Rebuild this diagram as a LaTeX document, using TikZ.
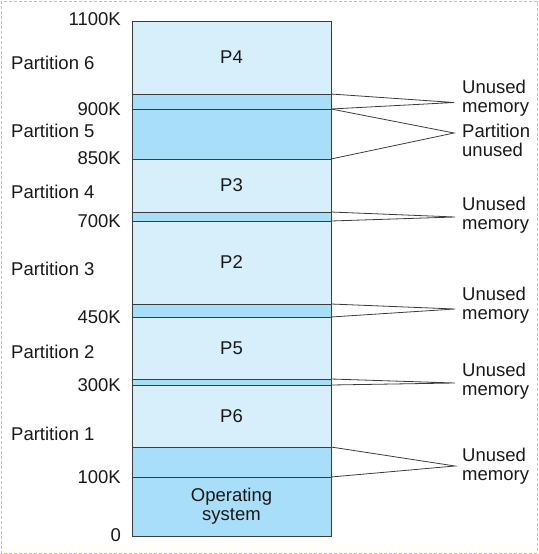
\documentclass[tikz,border=0pt]{standalone}
\usepackage{fontspec}
\setmainfont{Liberation Sans}
\definecolor{usedblue}{HTML}{D6EFFB}
\definecolor{freeblue}{HTML}{A9DEF8}
\definecolor{edgegray}{HTML}{3C3C3C}
\definecolor{framecol}{HTML}{C6CF58}
\tikzset{
  every node/.style={font=\fontsize{18.5}{19}\selectfont, text=black!90},
  band/.style={draw=edgegray, line width=1pt, minimum width=199pt, inner sep=0pt, outer sep=0pt, anchor=north},
  used/.style={band, fill=usedblue},
  free/.style={band, fill=freeblue},
  addr/.style={anchor=east, inner sep=0pt},
  part/.style={anchor=west, inner sep=0pt},
  note/.style={anchor=west, inner sep=0pt, align=left},
  lead/.style={draw=edgegray, line width=0.8pt}
}
\begin{document}
\begin{tikzpicture}[x=1pt,y=-1pt]
    \useasboundingbox (0,0) rectangle (538,554);
    % cornice
    \draw [framecol, line width=1pt, dash pattern=on 3pt off 2pt] (1,1) rectangle (537,553);
    % blocchi di memoria
    \node[used, minimum height=73pt] (p4) at (231.5,21) {P4};
    \node[free, minimum height=15pt] (u1) at (231.5,94) {};
    \node[free, minimum height=50pt] (pt5) at (231.5,109) {};
    \node[used, minimum height=53pt] (p3) at (231.5,159) {P3};
    \node[free, minimum height=9pt] (u2) at (231.5,212) {};
    \node[used, minimum height=83pt] (p2) at (231.5,221) {P2};
    \node[free, minimum height=13pt] (u3) at (231.5,304) {};
    \node[used, minimum height=62pt] (p5) at (231.5,317) {P5};
    \node[free, minimum height=6pt] (u4) at (231.5,379) {};
    \node[used, minimum height=62pt] (p6) at (231.5,385) {P6};
    \node[free, minimum height=30pt] (u5) at (231.5,447) {};
    \node[free, minimum height=59pt, align=center] (os) at (231.5,477) {Operating\\system};
    % indirizzi
    \node[addr] (a1100) at (121,19) {1100K};
    \node[addr] (a900) at (121,109) {900K};
    \node[addr] (a850) at (121,158) {850K};
    \node[addr] (a700) at (121,221) {700K};
    \node[addr] (a450) at (121,317) {450K};
    \node[addr] (a300) at (121,385) {300K};
    \node[addr] (a100) at (121,477) {100K};
    \node[addr] (a0) at (121,535) {0};
    % partizioni
    \node[part] (n6) at (11,63) {Partition 6};
    \node[part] (n5) at (11,131) {Partition 5};
    \node[part] (n4) at (11,192) {Partition 4};
    \node[part] (n3) at (11,269) {Partition 3};
    \node[part] (n2) at (11,352) {Partition 2};
    \node[part] (n1) at (11,434) {Partition 1};
    % note a destra
    \node[note] (l1) at (462,98) {Unused\\memory};
    \node[note] (l2) at (462,140) {Partition\\unused};
    \node[note] (l3) at (462,215) {Unused\\memory};
    \node[note] (l4) at (462,305) {Unused\\memory};
    \node[note] (l5) at (462,381) {Unused\\memory};
    \node[note] (l6) at (462,466) {Unused\\memory};
    \coordinate (t1) at (454,102.5);
    \coordinate (t2) at (454,133);
    \coordinate (t3) at (455,217);
    \coordinate (t4) at (455,309);
    \coordinate (t5) at (455,383);
    \coordinate (t6) at (455,466);
    \draw[lead] (u1.north east) -- (t1) -- (u1.south east);
    \draw[lead] (pt5.north east) -- (t2) -- (pt5.south east);
    \draw[lead] (u2.north east) -- (t3) -- (u2.south east);
    \draw[lead] (u3.north east) -- (t4) -- (u3.south east);
    \draw[lead] (u4.north east) -- (t5) -- (u4.south east);
    \draw[lead] (u5.north east) -- (t6) -- (u5.south east);
\end{tikzpicture}
\end{document}
